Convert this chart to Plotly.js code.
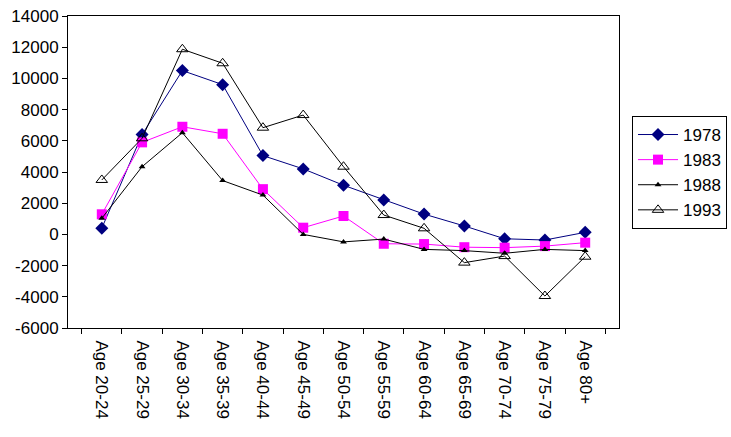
<!DOCTYPE html>
<html>
<head>
<meta charset="utf-8">
<script src="https://cdn.plot.ly/plotly-3.0.1.min.js"></script>
<style>html,body{margin:0;padding:0;background:#fff;}#chart{width:731px;height:437px;}</style>
</head>
<body>
<div id="chart"></div>
<script>
const categories = ["Age 20-24","Age 25-29","Age 30-34","Age 35-39","Age 40-44","Age 45-49","Age 50-54","Age 55-59","Age 60-64","Age 65-69","Age 70-74","Age 75-79","Age 80+"];
const s1978 = [400, 6400, 10500, 9600, 5050, 4200, 3150, 2200, 1300, 540, -280, -360, 130];
const s1983 = [1290, 5900, 6900, 6450, 2900, 430, 1180, -600, -620, -820, -850, -750, -530];
const s1988 = [1030, 4340, 6520, 3450, 2520, 0, -480, -300, -960, -1040, -1210, -960, -1040];
const s1993 = [3490, 6160, 11870, 10970, 6840, 7650, 4340, 1240, 390, -1810, -1390, -3950, -1430];
const yTicks = [-6000,-4000,-2000,0,2000,4000,6000,8000,10000,12000,14000];

const traces = [
  {name:"1978", x:categories, y:s1978, type:"scatter", mode:"lines+markers",
   line:{color:"#000080", width:1}, marker:{symbol:"diamond", size:10, color:"#000080"}},
  {name:"1983", x:categories, y:s1983, type:"scatter", mode:"lines+markers",
   line:{color:"#FF00FF", width:1}, marker:{symbol:"square", size:10, color:"#FF00FF"}},
  {name:"1988", x:categories, y:s1988, type:"scatter", mode:"lines+markers",
   line:{color:"#000000", width:1}, marker:{symbol:"triangle-up", size:6, color:"#000000"}},
  {name:"1993", x:categories, y:s1993, type:"scatter", mode:"lines+markers",
   line:{color:"#000000", width:1}, marker:{symbol:"triangle-up-open", size:10, color:"#000000", line:{width:1}}}
];

const font = {family:"Liberation Sans, Arial, sans-serif", size:17, color:"#000"};
const layout = {
  width:731, height:437,
  margin:{l:68, r:112, t:16, b:109, autoexpand:false},
  paper_bgcolor:"#fff", plot_bgcolor:"#fff",
  font: font,
  showlegend:true,
  legend:{xref:"container", yref:"container", x:0.8646, y:0.7346, xanchor:"left", yanchor:"top",
          bordercolor:"#000", borderwidth:1,
          bgcolor:"#fff", font:{family:"Liberation Sans, Arial, sans-serif", size:17, color:"#000"},
          tracegroupgap:0, itemwidth:40},
  xaxis:{type:"category", tickangle:90, tickson:"boundaries", ticks:"outside", ticklen:5,
         tickcolor:"#000", showline:true, linecolor:"#000", linewidth:1, mirror:true,
         showgrid:false, zeroline:false, tickfont:font, automargin:false, ticklabelstandoff:8},
  yaxis:{range:[-6000,14000], tickvals:yTicks, ticktext:yTicks.map(String), ticks:"outside", ticklen:5,
         tickcolor:"#000", showline:true, linecolor:"#000", linewidth:1, mirror:true,
         showgrid:false, zeroline:false, tickfont:font, automargin:false}
};
Plotly.newPlot("chart", traces, layout, {displayModeBar:false, staticPlot:true});
</script>
</body>
</html>
